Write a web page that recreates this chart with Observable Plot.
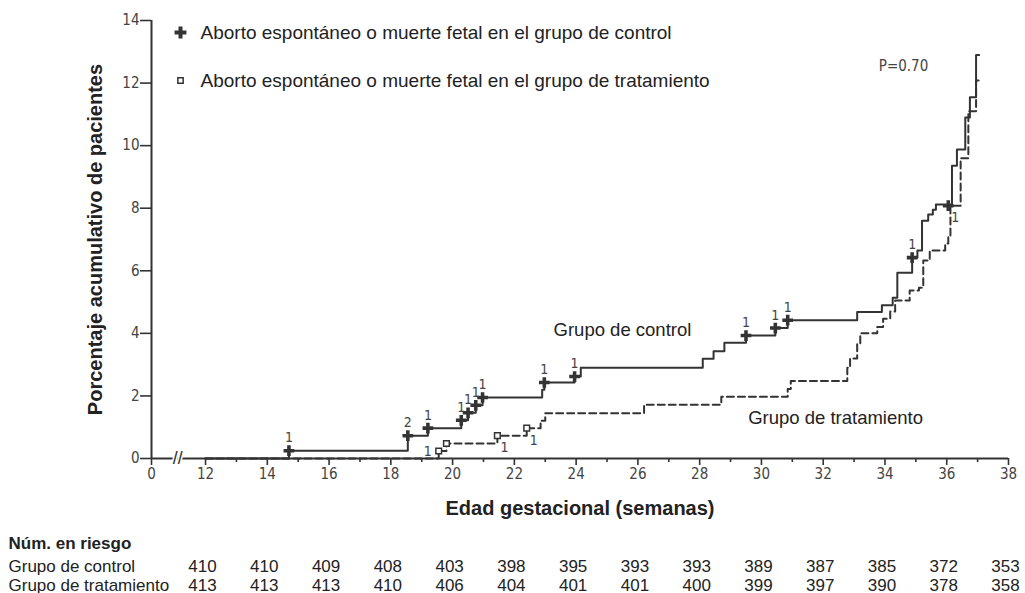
<!DOCTYPE html>
<html>
<head>
<meta charset="utf-8">
<script src="https://cdn.jsdelivr.net/npm/d3@7"></script>
<script src="https://cdn.jsdelivr.net/npm/@observablehq/plot@0.6"></script>
<style>
  html, body { margin: 0; padding: 0; background: #fff; }
  #chart svg { display: block; }
</style>
</head>
<body>
<div id="chart"></div>
<script>
// ---- Data ----
const controlWeeks = [12, 14.7, 18.55, 19.2, 20.28, 20.5, 20.75, 20.97, 22.9, 22.97, 23.95, 24.15, 28.1, 28.45, 28.8, 29.5, 30.45, 30.85, 33.1, 33.9, 34.25, 34.4, 34.88, 35.05, 35.2, 35.4, 35.55, 35.65, 36.17, 36.33, 36.6, 36.75, 36.95, 37.05];
const controlPct   = [0, 0.25, 0.73, 0.97, 1.22, 1.46, 1.7, 1.95, 2.2, 2.43, 2.62, 2.9, 3.19, 3.43, 3.7, 3.93, 4.17, 4.42, 4.68, 4.9, 5.14, 5.94, 6.42, 6.65, 7.6, 7.8, 7.95, 8.12, 9.36, 9.88, 10.9, 11.55, 12.9, 12.9];

const treatWeeks = [12, 19.55, 19.8, 21.45, 22.4, 22.85, 23.0, 26.2, 28.7, 30.85, 30.95, 32.78, 32.87, 33.1, 33.2, 33.75, 33.94, 34.17, 34.33, 34.8, 35.1, 35.24, 35.45, 35.95, 36.05, 36.12, 36.45, 36.7, 36.95, 37.05];
const treatPct   = [0, 0.24, 0.48, 0.73, 0.97, 1.21, 1.45, 1.72, 1.97, 2.22, 2.48, 2.9, 3.2, 3.67, 4.0, 4.2, 4.47, 4.7, 5.05, 5.37, 5.46, 6.33, 6.65, 6.87, 7.12, 8.08, 9.6, 11.1, 12.08, 12.08];

const controlEventWeeks  = [14.7, 18.55, 19.2, 20.28, 20.5, 20.75, 20.97, 22.97, 23.95, 29.5, 30.45, 30.85, 34.88];
const controlEventPct    = [0.25, 0.73, 0.97, 1.22, 1.46, 1.7, 1.95, 2.43, 2.62, 3.93, 4.17, 4.42, 6.42];
const controlEventLabel  = ["1", "2", "1", "1", "1", "1", "1", "1", "1", "1", "1", "1", "1"];

const treatEventWeeks = [19.55, 19.8, 21.45, 22.4, 36.05];
const treatEventPct   = [0.24, 0.48, 0.73, 0.97, 8.08];
const treatEventLabel = ["1", "", "1", "1", "1"];

const xTickWeeks = [12, 14, 16, 18, 20, 22, 24, 26, 28, 30, 32, 34, 36, 38];
const xMinorWeeks = [13, 15, 17, 19, 21, 23, 25, 27, 29, 31, 33, 35, 37];
const yTicks = [0, 2, 4, 6, 8, 10, 12, 14];
const axisOrigin = 10.25;   // the "0" of the broken x axis
const breakWeek = 11.1;

const riskWeeks   = [12, 14, 16, 18, 20, 22, 24, 26, 28, 30, 32, 34, 36, 38];
const riskControl = [410, 410, 409, 408, 403, 398, 395, 393, 393, 389, 387, 385, 372, 353];
const riskTreat   = [413, 413, 413, 410, 406, 404, 401, 401, 400, 399, 397, 390, 378, 358];

const legendLabels = [
  "Aborto espontáneo o muerte fetal en el grupo de control",
  "Aborto espontáneo o muerte fetal en el grupo de tratamiento"
];
const groupLabels = ["Grupo de control", "Grupo de tratamiento"];

// ---- Build tables ----
const control = controlWeeks.map((w, i) => ({w, p: controlPct[i]}));
const treat = treatWeeks.map((w, i) => ({w, p: treatPct[i]}));
const cEvents = controlEventWeeks.map((w, i) => ({w, p: controlEventPct[i], label: controlEventLabel[i]}));
const tEvents = treatEventWeeks.map((w, i) => ({w, p: treatEventPct[i], label: treatEventLabel[i]}));
const riskC = riskWeeks.map((w, i) => ({w, n: riskControl[i]}));
const riskT = riskWeeks.map((w, i) => ({w, n: riskTreat[i]}));

const INK = "#333";
const TXT = "#222";
const mainFont = "Liberation Sans, Arial, sans-serif";
const tickFont = "DejaVu Sans Condensed, DejaVu Sans, sans-serif";
const last = tEvents.length - 1;

const chart = Plot.plot({
  width: 1025,
  height: 593,
  marginLeft: 151,
  marginRight: 17,
  marginTop: 20,
  marginBottom: 135,
  style: {fontFamily: mainFont, background: "#fff", overflow: "visible"},
  x: {domain: [axisOrigin, 38]},
  y: {domain: [0, 14]},
  marks: [
    // axes
    Plot.axisY({ticks: yTicks, tickSize: 11, tickPadding: 1, stroke: INK, strokeWidth: 1.6,
      fontSize: 15, fontFamily: tickFont, fill: "#444", label: null}),
    Plot.axisX({ticks: [axisOrigin, ...xTickWeeks], tickSize: 7, tickPadding: 3, stroke: INK, strokeWidth: 1.6,
      fontSize: 15, fontFamily: tickFont, fill: "#444", label: null,
      tickFormat: d => d === axisOrigin ? "0" : String(d)}),
    Plot.axisX({ticks: xMinorWeeks, tickSize: 4, stroke: INK, strokeWidth: 1.6, text: null, label: null}),
    Plot.ruleY([0], {stroke: INK, strokeWidth: 2}),
    Plot.ruleX([axisOrigin], {y1: 0, y2: 14, stroke: INK, strokeWidth: 2}),
    // axis break
    Plot.text([breakWeek], {x: d => d, y: 0, text: () => "//", fontSize: 15, fontWeight: "bold",
      fill: INK, stroke: "white", strokeWidth: 3, paintOrder: "stroke", fontFamily: tickFont}),

    // curves
    Plot.line(control, {x: "w", y: "p", curve: "step-after", stroke: INK, strokeWidth: 2}),
    Plot.line(treat, {x: "w", y: "p", curve: "step-after", stroke: INK, strokeWidth: 2, strokeDasharray: "7,4"}),

    // event markers
    Plot.dot(cEvents, {x: "w", y: "p", symbol: "cross", r: 4.5, fill: INK}),
    Plot.text(cEvents, {x: "w", y: "p", text: "label", dy: -13, fontSize: 14, fontFamily: tickFont, fill: "#444"}),
    Plot.dot(tEvents.filter((d, i) => i < last), {x: "w", y: "p", symbol: "square", r: 3.2, fill: "white", stroke: INK, strokeWidth: 1.5}),
    Plot.dot(tEvents.filter((d, i) => i === last), {x: "w", y: "p", symbol: "cross", r: 4.5, fill: INK}),
    Plot.text(tEvents.filter((d, i) => i === 0), {x: "w", y: "p", text: "label", dx: -11, dy: 1, fontSize: 14, fontFamily: tickFont, fill: "#444"}),
    Plot.text(tEvents.filter((d, i) => i > 0), {x: "w", y: "p", text: "label", dx: 7, dy: 12, fontSize: 14, fontFamily: tickFont, fill: "#444"}),

    // annotations
    Plot.text(["P=0.70"], {x: 34.6, y: 12.55, fontSize: 15, fontFamily: tickFont, fill: "#444"}),
    Plot.text([groupLabels[0]], {x: 25.5, y: 4.09, fontSize: 18.5, fill: TXT}),
    Plot.text([groupLabels[1]], {x: 32.4, y: 1.28, fontSize: 18.5, fill: TXT}),

    // legend
    Plot.dot([0], {frameAnchor: "top-left", dx: 29, dy: 12, symbol: "cross", r: 5, fill: INK}),
    Plot.dot([0], {frameAnchor: "top-left", dx: 29, dy: 60, symbol: "square", r: 3, fill: "white", stroke: INK, strokeWidth: 1.5}),
    Plot.text([legendLabels[0]], {frameAnchor: "top-left", dx: 49, dy: 12, textAnchor: "start", lineAnchor: "middle", fontSize: 19, fill: TXT}),
    Plot.text([legendLabels[1]], {frameAnchor: "top-left", dx: 49, dy: 60, textAnchor: "start", lineAnchor: "middle", fontSize: 19, fill: TXT}),

    // axis titles
    Plot.text(["Porcentaje acumulativo de pacientes"], {frameAnchor: "left", dx: -56, rotate: -90, textAnchor: "middle", lineAnchor: "middle", fontSize: 20, fontWeight: "bold", fill: TXT}),
    Plot.text(["Edad gestacional (semanas)"], {frameAnchor: "bottom", dy: 50, textAnchor: "middle", lineAnchor: "middle", fontSize: 20, fontWeight: "bold", fill: TXT}),

    // number at risk table
    Plot.text(["Núm. en riesgo"], {frameAnchor: "bottom-left", dx: -143, dy: 85, textAnchor: "start", lineAnchor: "middle", fontSize: 17, fontWeight: "bold", fill: TXT}),
    Plot.text([groupLabels[0]], {frameAnchor: "bottom-left", dx: -143, dy: 108, textAnchor: "start", lineAnchor: "middle", fontSize: 17, fill: TXT}),
    Plot.text([groupLabels[1]], {frameAnchor: "bottom-left", dx: -143, dy: 127, textAnchor: "start", lineAnchor: "middle", fontSize: 17, fill: TXT}),
    Plot.text(riskC, {x: "w", frameAnchor: "bottom", text: d => String(d.n), dx: -3, dy: 108, lineAnchor: "middle", fontSize: 17, fill: TXT}),
    Plot.text(riskT, {x: "w", frameAnchor: "bottom", text: d => String(d.n), dx: -3, dy: 127, lineAnchor: "middle", fontSize: 17, fill: TXT})
  ]
});
document.getElementById("chart").appendChild(chart);
</script>
</body>
</html>
